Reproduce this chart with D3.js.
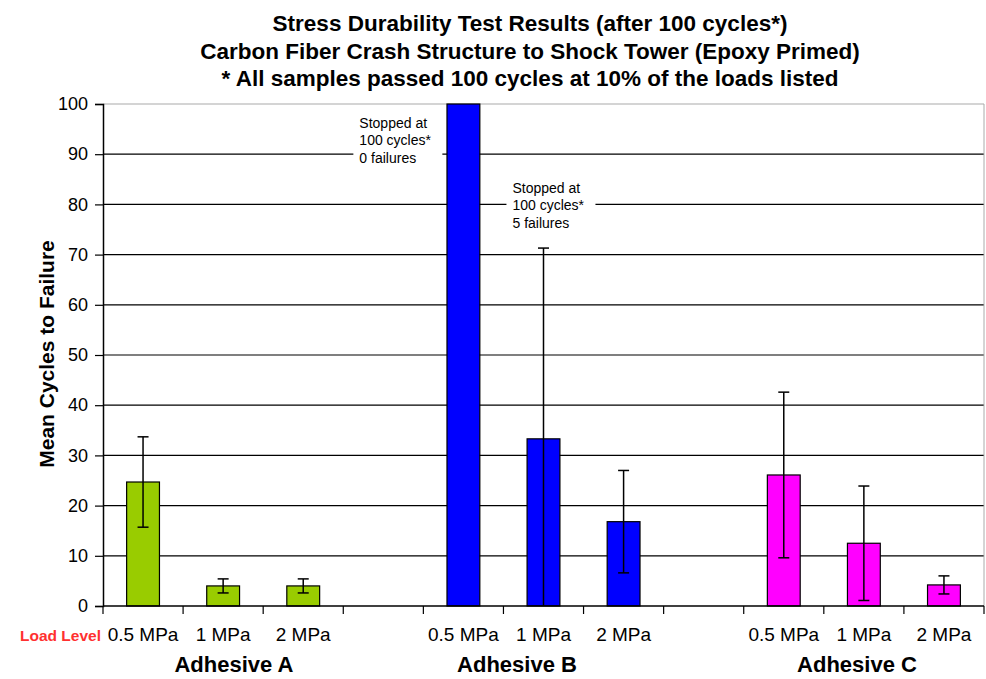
<!DOCTYPE html>
<html>
<head>
<meta charset="utf-8">
<script src="https://cdn.jsdelivr.net/npm/d3@7"></script>
<style>
  body { margin: 0; background: #fff; }
  text { font-family: Arial, 'Liberation Sans', sans-serif; }
</style>
</head>
<body>
<div id="chart"></div>
<script>
const titleLines = [
  'Stress Durability Test Results (after 100 cycles*)',
  'Carbon Fiber Crash Structure to Shock Tower (Epoxy Primed)',
  '* All samples passed 100 cycles at 10% of the loads listed'
];
const adhesives = ['Adhesive A', 'Adhesive B', 'Adhesive C'];
const adhesiveColors = ['#99CC00', '#0000FF', '#FF00FF'];
const loads = ['0.5 MPa', '1 MPa', '2 MPa'];
const means = [
  [24.7, 4.0, 4.0],
  [100, 33.3, 16.8],
  [26.1, 12.5, 4.2]
];
const errs = [
  [9.0, 1.4, 1.4],
  [0, 38.0, 10.2],
  [16.5, 11.4, 1.8]
];
const yTicks = [0, 10, 20, 30, 40, 50, 60, 70, 80, 90, 100];
const notes = [
  { adhesive: 1, load: 0, lines: ['Stopped at', '100 cycles*', '0 failures'] },
  { adhesive: 1, load: 1, lines: ['Stopped at', '100 cycles*', '5 failures'] }
];

const W = 986, H = 679;
const margin = { top: 104, right: 2, bottom: 73, left: 103 };

// slots: 3 loads per adhesive with one empty slot between groups
const slots = [];
adhesives.forEach((a, i) => {
  loads.forEach((l, j) => slots.push({ key: `${i}-${j}`, a: i, l: j, mean: means[i][j], err: errs[i][j] }));
  if (i < adhesives.length - 1) slots.push({ key: `gap${i}`, gap: true });
});

const svg = d3.select('#chart').append('svg').attr('width', W).attr('height', H);

const x = d3.scaleBand().domain(slots.map(d => d.key)).range([margin.left, W - margin.right]).padding(0);
const y = d3.scaleLinear().domain([0, 100]).range([H - margin.bottom, margin.top]);
const barW = x.bandwidth() * 0.41;

// title
svg.append('g').selectAll('text').data(titleLines).join('text')
  .attr('x', 530).attr('y', (d, i) => 31 + i * 27.5)
  .attr('text-anchor', 'middle').attr('font-size', '22.5px').attr('font-weight', 'bold')
  .attr('fill', '#000').text(d => d);

// gridlines
svg.append('g').selectAll('line').data(yTicks.filter(t => t > 0)).join('line')
  .attr('x1', margin.left).attr('x2', W - margin.right)
  .attr('y1', d => y(d)).attr('y2', d => y(d))
  .attr('stroke', d => d === 100 ? '#aaa' : '#000').attr('stroke-width', 1.2);
svg.append('line').attr('x1', W - margin.right).attr('x2', W - margin.right)
  .attr('y1', y(100)).attr('y2', y(0)).attr('stroke', '#aaa');

// y axis
svg.append('g').attr('transform', `translate(${margin.left},0)`)
  .call(d3.axisLeft(y).tickValues(yTicks).tickSize(8).tickPadding(7))
  .call(g => g.select('.domain').attr('stroke-width', 1.5))
  .call(g => g.selectAll('.tick line').attr('stroke-width', 1.2))
  .call(g => g.selectAll('.tick text').attr('font-size', '18px')
    .attr('font-family', 'Arial, Liberation Sans, sans-serif').attr('fill', '#000'));

svg.append('text').attr('transform', 'rotate(-90)')
  .attr('x', -354).attr('y', 54).attr('text-anchor', 'middle')
  .attr('font-size', '21px').attr('font-weight', 'bold').text('Mean Cycles to Failure');

// bars
const bars = slots.filter(d => !d.gap);
svg.append('g').selectAll('rect').data(bars).join('rect')
  .attr('x', d => x(d.key) + (x.bandwidth() - barW) / 2)
  .attr('y', d => y(d.mean))
  .attr('width', barW).attr('height', d => y(0) - y(d.mean))
  .attr('fill', d => adhesiveColors[d.a]).attr('stroke', '#000').attr('stroke-width', 1.2);

// error bars
const eb = svg.append('g').selectAll('g').data(bars.filter(d => d.err > 0)).join('g')
  .attr('stroke', '#000').attr('stroke-width', 1.5);
const cx = d => x(d.key) + x.bandwidth() / 2;
eb.append('line').attr('x1', cx).attr('x2', cx)
  .attr('y1', d => y(d.mean + d.err)).attr('y2', d => y(Math.max(0, d.mean - d.err)));
eb.append('line').attr('x1', d => cx(d) - 5.5).attr('x2', d => cx(d) + 5.5)
  .attr('y1', d => y(d.mean + d.err)).attr('y2', d => y(d.mean + d.err));
eb.filter(d => d.mean - d.err > 0).append('line')
  .attr('x1', d => cx(d) - 5.5).attr('x2', d => cx(d) + 5.5)
  .attr('y1', d => y(d.mean - d.err)).attr('y2', d => y(d.mean - d.err));

// x axis
svg.append('line').attr('x1', margin.left).attr('x2', W - margin.right)
  .attr('y1', y(0)).attr('y2', y(0)).attr('stroke', '#000').attr('stroke-width', 1.5);
const tickXs = slots.map(d => x(d.key)).concat([W - margin.right]);
svg.append('g').selectAll('line').data(tickXs).join('line')
  .attr('x1', d => d).attr('x2', d => d).attr('y1', y(0)).attr('y2', y(0) + 8)
  .attr('stroke', '#000').attr('stroke-width', 1.2);

svg.append('g').selectAll('text').data(bars).join('text')
  .attr('x', cx).attr('y', 641).attr('text-anchor', 'middle')
  .attr('font-size', '19px').attr('fill', '#000').text(d => loads[d.l]);

svg.append('text').attr('x', 20).attr('y', 641).attr('font-size', '15.5px').attr('font-weight', 'bold')
  .attr('fill', '#FF3030').text('Load Level');

const groupCenters = [234, 517, 857];
svg.append('g').selectAll('text').data(adhesives).join('text')
  .attr('x', (d, i) => groupCenters[i]).attr('y', 672).attr('text-anchor', 'middle')
  .attr('font-size', '22px').attr('font-weight', 'bold').text(d => d);

// annotations
const noteOffsets = [{ dx: -64, top: 95.3 }, { dx: 9, top: 82.3 }];
notes.forEach((n, k) => {
  const key = `${n.adhesive}-${n.load}`;
  const nx = x(key) + noteOffsets[k].dx;
  const g = svg.append('g');
  const ty = y(noteOffsets[k].top);
  g.append('rect').attr('x', nx - 6).attr('y', ty - 15).attr('width', 89).attr('height', 55).attr('fill', '#fff');
  g.selectAll('text').data(n.lines).join('text')
    .attr('x', nx).attr('y', (d, i) => ty + i * 17.5)
    .attr('font-size', '14px').attr('fill', '#000').text(d => d);
});
</script>
</body>
</html>
